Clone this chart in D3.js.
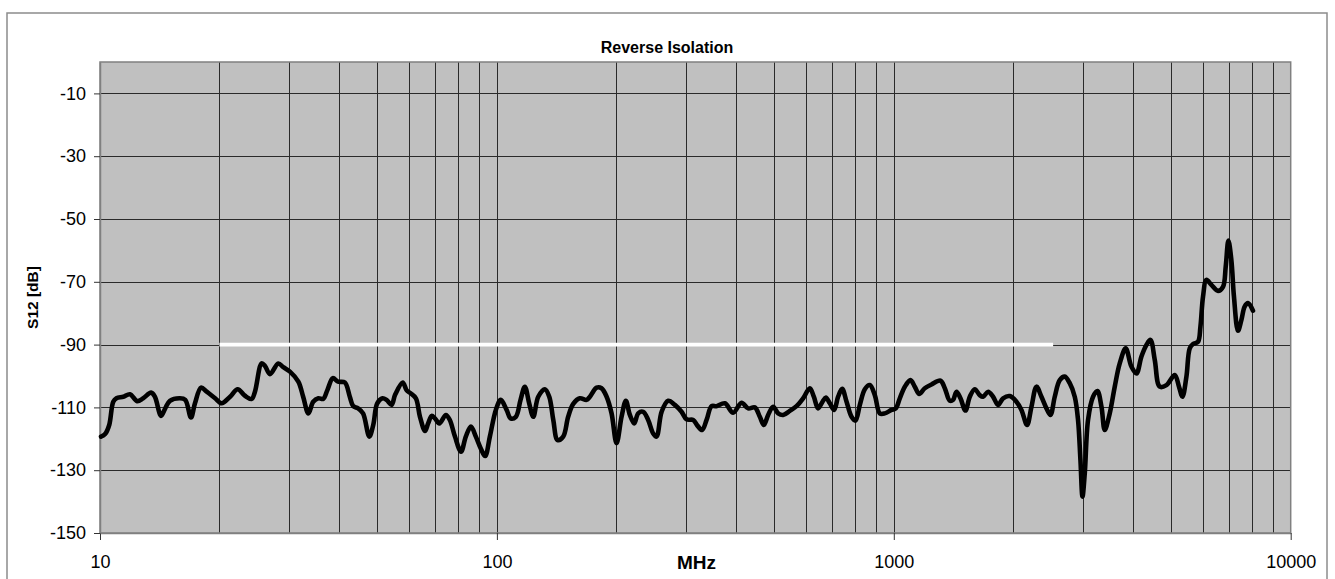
<!DOCTYPE html>
<html>
<head>
<meta charset="utf-8">
<script src="https://cdn.jsdelivr.net/npm/d3@7"></script>
<style>
  html, body { margin: 0; padding: 0; background: #fff; }
  svg { display: block; }
  text { font-family: "Liberation Sans", Arial, sans-serif; }
</style>
</head>
<body>
<svg id="chart" width="1335" height="579"></svg>
<script>
// ---------------- data ----------------
const chartTitle = "Reverse Isolation";
const xTitle = "MHz";
const yTitle = "S12 [dB]";

const xTickValues = [10, 100, 1000, 10000];
const xGridValues = [20, 30, 40, 50, 60, 70, 80, 90, 100, 200, 300, 400, 500, 600, 700, 800, 900, 1000,
                     2000, 3000, 4000, 5000, 6000, 7000, 8000, 9000];
const yTickValues = [-150, -130, -110, -90, -70, -50, -30, -10];

// reference limit line (white)
const limitFreq = [20, 2520];
const limitDb = [-90, -90];

// measured S12 curve
const freqMHz = [
  10.06, 10.3, 10.55, 10.8, 11.0, 11.45, 11.9, 12.4, 12.85, 13.45, 13.75, 14.25, 14.6, 15.0, 15.9, 16.4,
  16.95, 17.35, 17.97, 18.57, 19.5, 20.25, 21.27, 22.23, 23.19, 24.1, 24.57, 25.54, 26.04, 26.81, 28.13,
  28.96, 30.1, 31.6, 32.5, 33.5, 34.45, 35.5, 36.5, 37.4, 38.6, 39.8, 41.4, 42.6, 43.45, 44.7, 46.0, 47.7,
  48.8, 49.95, 51.5, 52.7, 54.3, 55.4, 57.9, 59.2, 60.6, 62.5, 64.0, 65.9, 67.1, 68.5, 69.8, 71.6, 74.4,
  76.1, 78.4, 81.2, 83.5, 86.0, 88.5, 91.0, 93.4, 96.0, 99.4, 102.3, 105.8, 108.3, 111.6, 114.7, 117.6,
  120.6, 123.5, 127.1, 132.1, 135.5, 138.7, 142.2, 146.9, 151.2, 155.7, 161.8, 168.2, 171.5, 178.3, 183.5,
  189.0, 194.5, 200.2, 206.1, 211.3, 216.3, 221.8, 227.0, 233.7, 240.5, 247.6, 252.5, 260.0, 270.1, 280.8,
  291.9, 300.5, 312.3, 320.0, 328.9, 337.5, 347.4, 357.6, 375.2, 393.7, 413.4, 429.5, 446.6, 459.7, 470.5,
  482.4, 496.6, 511.2, 526.3, 547.0, 568.7, 590.9, 614.3, 628.8, 644.6, 661.3, 674.1, 690.0, 707.4, 724.0,
  741.1, 760.3, 782.6, 800.9, 821.2, 845.3, 870.1, 895.7, 922.0, 949.1, 986.7, 1011.6, 1035.4, 1066.0,
  1101.6, 1129.5, 1158.0, 1197.0, 1244.3, 1311.1, 1344.3, 1383.8, 1410.6, 1438.8, 1472.3, 1515.6, 1554.1,
  1599.8, 1646.7, 1678.8, 1728.2, 1779.0, 1831.0, 1885.5, 1959.7, 2037.0, 2097.0, 2166.7, 2222.6, 2288.0,
  2355.0, 2424.5, 2481.5, 2544.0, 2619.0, 2696.0, 2775.0, 2857.0, 2912.0, 2953.0, 2988.0, 3028.0, 3086.0,
  3177.0, 3259.0, 3336.0, 3400.0, 3500.0, 3603.0, 3709.0, 3840.0, 3969.0, 4087.0, 4207.0, 4331.0, 4433.0,
  4545.0, 4677.0, 4863.0, 5103.0, 5231.0, 5336.0, 5461.0, 5567.0, 5675.0, 5841.0, 5923.0, 6013.0, 6133.0,
  6313.0, 6559.0, 6752.0, 6859.0, 6967.0, 7088.0, 7195.0, 7365.0, 7511.0, 7656.0, 7806.0, 8035.0
];
const s12dB = [
  -119.3, -118.5, -115.6, -108.2, -107.1, -106.6, -105.8, -108.0, -107.1, -105.3, -106.6, -112.7, -110.3, -107.9, -107.1, -107.6,
  -113.2, -108.7, -103.7, -105.0, -107.1, -108.7, -106.6, -104.2, -106.3, -107.3, -105.0, -96.0, -96.8, -99.4, -96.0,
  -97.2, -98.6, -101.8, -106.6, -111.9, -108.2, -107.1, -107.3, -104.5, -100.7, -101.8, -102.1, -106.6, -109.6, -110.3, -111.9, -119.3,
  -115.6, -108.7, -107.1, -107.6, -109.2, -106.0, -102.1, -104.5, -105.5, -107.1, -113.0, -117.5, -115.1, -112.7, -113.5, -115.1, -112.4,
  -114.0, -119.3, -124.1, -119.3, -116.1, -119.3, -123.0, -125.5, -119.3, -110.8, -107.6, -110.8, -113.5, -113.0, -107.6, -103.4,
  -108.7, -113.0, -106.6, -104.2, -106.6, -114.0, -120.4, -119.3, -113.0, -108.9, -107.1, -107.6, -106.6, -103.7, -103.9,
  -106.6, -111.9, -121.4, -113.0, -107.9, -112.4, -115.1, -111.9, -111.4, -114.0, -118.3, -119.3, -111.4, -107.9, -109.2,
  -111.4, -113.8, -114.0, -115.8, -117.2, -114.0, -109.6, -109.6, -108.7, -111.7, -108.5, -110.3, -110.0, -113.0, -115.6,
  -112.4, -109.8, -111.9, -112.4, -111.1, -109.6, -107.1, -103.9, -106.6, -110.3, -108.2, -106.9, -108.7, -110.8, -106.6,
  -104.1, -108.2, -113.0, -114.2, -109.2, -104.2, -102.9, -106.1, -111.9, -111.9, -110.8, -110.3, -107.1, -103.4,
  -101.3, -103.4, -105.7, -103.9, -102.7, -101.5, -103.9, -107.9, -107.6, -105.0, -107.1, -111.0, -106.6,
  -104.2, -106.1, -106.6, -105.0, -106.6, -109.2, -107.1, -106.4, -108.2, -110.8, -115.6, -109.8, -103.4,
  -106.6, -110.3, -112.4, -106.6, -101.3, -100.2, -102.3, -106.6, -114.0, -126.8, -138.4, -131.0, -114.0,
  -106.6, -104.8, -109.8, -117.2, -111.9, -103.4, -96.0, -91.2, -97.0, -99.2, -93.8, -90.1, -88.5,
  -94.9, -103.4, -102.9, -99.7, -103.4, -106.6, -100.2, -91.2, -89.8, -89.1, -84.3, -74.7, -69.4,
  -71.0, -72.9, -71.6, -65.2, -56.9, -63.1, -74.7, -85.6, -82.2, -77.9, -76.8, -79.2
];

// ---------------- layout ----------------
const svg = d3.select("#chart");
const plot = { left: 100, top: 62, right: 1290.7, bottom: 533 };

const x = d3.scaleLog().domain([10, 10000]).range([plot.left, plot.right]);
const y = d3.scaleLinear().domain([-150, 0]).range([plot.bottom, plot.top]);

// outer chart frame
svg.append("rect")
  .attr("x", 7).attr("y", 13)
  .attr("width", 1320).attr("height", 600)
  .attr("fill", "#fff").attr("stroke", "#8c8c8c").attr("stroke-width", 1.5);

// plot background
svg.append("rect")
  .attr("x", plot.left).attr("y", plot.top)
  .attr("width", plot.right - plot.left).attr("height", plot.bottom - plot.top)
  .attr("fill", "#c0c0c0");

// vertical grid lines
svg.append("g").selectAll("line").data(xGridValues).join("line")
  .attr("x1", d => Math.round(x(d)) + 0.5).attr("x2", d => Math.round(x(d)) + 0.5)
  .attr("y1", plot.top).attr("y2", plot.bottom)
  .attr("stroke", "#2a2a2a").attr("stroke-width", 1);

// horizontal grid lines
svg.append("g").selectAll("line").data(yTickValues.filter(v => v > -150)).join("line")
  .attr("x1", plot.left).attr("x2", plot.right)
  .attr("y1", d => Math.round(y(d)) + 0.5).attr("y2", d => Math.round(y(d)) + 0.5)
  .attr("stroke", "#2a2a2a").attr("stroke-width", 1);

// plot border
svg.append("rect")
  .attr("x", plot.left).attr("y", plot.top)
  .attr("width", plot.right - plot.left).attr("height", plot.bottom - plot.top)
  .attr("fill", "none").attr("stroke", "#808080").attr("stroke-width", 1.5);

// axes
const xAxis = d3.axisBottom(x)
  .tickValues(xTickValues)
  .tickFormat(d3.format("d"))
  .tickSizeInner(7).tickSizeOuter(0).tickPadding(15);
const gx = svg.append("g").attr("transform", `translate(0,${plot.bottom})`).call(xAxis);
gx.select(".domain").attr("stroke", "#808080").attr("stroke-width", 1.5);
gx.selectAll(".tick line").attr("stroke", "#333");
gx.selectAll(".tick text").attr("font-size", 18).attr("fill", "#000")
  .attr("font-family", "'Liberation Sans', Arial, sans-serif");

const yAxis = d3.axisLeft(y)
  .tickValues(yTickValues)
  .tickFormat(d3.format("d"))
  .tickSizeInner(6).tickSizeOuter(0).tickPadding(8);
const gy = svg.append("g").attr("transform", `translate(${plot.left},0)`).call(yAxis);
gy.select(".domain").attr("stroke", "#808080").attr("stroke-width", 1.5);
gy.selectAll(".tick line").attr("stroke", "#333");
gy.selectAll(".tick text").attr("font-size", 18).attr("fill", "#000")
  .attr("font-family", "'Liberation Sans', Arial, sans-serif")
  .text(d => String(d).replace("\u2212", "-"));

// white limit line
const limitData = limitFreq.map((f, i) => ({ f, v: limitDb[i] }));
svg.append("path")
  .datum(limitData)
  .attr("fill", "none").attr("stroke", "#fff").attr("stroke-width", 3.6)
  .attr("d", d3.line().x(d => x(d.f)).y(d => y(d.v)));

// measured curve
const curveData = freqMHz.map((f, i) => ({ f, v: s12dB[i] }));
svg.append("path")
  .datum(curveData)
  .attr("fill", "none").attr("stroke", "#000").attr("stroke-width", 4.6)
  .attr("stroke-linejoin", "round").attr("stroke-linecap", "round")
  .attr("d", d3.line().curve(d3.curveCatmullRom.alpha(0.5)).x(d => x(d.f)).y(d => y(d.v)));

// titles
svg.append("text")
  .attr("x", 667).attr("y", 53)
  .attr("text-anchor", "middle").attr("font-size", 16).attr("font-weight", "bold")
  .text(chartTitle);

svg.append("text")
  .attr("x", 696.5).attr("y", 569)
  .attr("text-anchor", "middle").attr("font-size", 19).attr("font-weight", "bold")
  .text(xTitle);

svg.append("text")
  .attr("transform", `translate(38,${(plot.top + plot.bottom) / 2}) rotate(-90)`)
  .attr("text-anchor", "middle").attr("font-size", 15.5).attr("font-weight", "bold")
  .text(yTitle);
</script>
</body>
</html>
